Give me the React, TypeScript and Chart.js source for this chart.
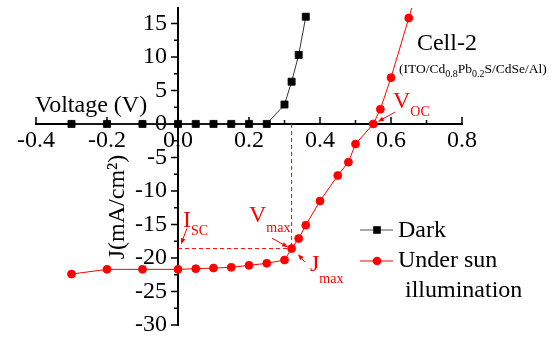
import { useEffect, useRef } from 'react';
import { Chart, registerables } from 'chart.js';

Chart.register(...registerables);

const SERIF = '"Liberation Serif", "Times New Roman", serif';

// Dark J–V curve (V, mA/cm²)
const darkVoltage = [-0.3, -0.2, -0.1, 0, 0.05, 0.1, 0.15, 0.2, 0.25, 0.3, 0.32, 0.34, 0.36];
const darkCurrent = [0, 0, 0, 0, 0, 0, 0, 0, 0, 2.9, 6.3, 10.3, 16.0];

// J–V curve under illumination (V, mA/cm²)
const lightVoltage = [-0.3, -0.2, -0.1, 0, 0.05, 0.1, 0.15, 0.2, 0.25, 0.3, 0.32, 0.34, 0.36, 0.4, 0.45, 0.48, 0.5, 0.55, 0.57, 0.6, 0.65, 0.67];
const lightCurrent = [-22.4, -21.7, -21.7, -21.7, -21.6, -21.5, -21.4, -21.1, -20.8, -20.3, -18.6, -17.1, -15.1, -11.5, -7.7, -5.7, -3.0, 0.0, 2.2, 6.9, 15.8, 19.4];

// Maximum power point
const vMax = 0.32;
const jMax = -18.6;

const seriesNames = ['Dark', 'Under sun illumination'];
const legendLines = [['Dark'], ['Under sun', 'illumination']];

const xTickValues = [-0.4, -0.2, 0, 0.2, 0.4, 0.6, 0.8];
const xMinorValues = [-0.3, -0.1, 0.1, 0.3, 0.5, 0.7];
const yTickValues = [-30, -25, -20, -15, -10, -5, 0, 5, 10, 15];
const yMinorValues = [-27.5, -22.5, -17.5, -12.5, -7.5, -2.5, 2.5, 7.5, 12.5];

const RED = '#ff0000';

type Seg = { text: string; sub?: boolean };

function drawRich(
  ctx: CanvasRenderingContext2D,
  segs: Seg[],
  x: number,
  y: number,
  size: number,
  subSize: number,
  subDrop: number,
) {
  let cx = x;
  for (const s of segs) {
    ctx.font = `${s.sub ? subSize : size}px ${SERIF}`;
    ctx.fillText(s.text, cx, s.sub ? y + subDrop : y);
    cx += ctx.measureText(s.text).width;
  }
}

function drawArrow(ctx: CanvasRenderingContext2D, x1: number, y1: number, x2: number, y2: number) {
  const ang = Math.atan2(y2 - y1, x2 - x1);
  const len = 6;
  const half = 2.4;
  ctx.beginPath();
  ctx.moveTo(x1, y1);
  ctx.lineTo(x2 - Math.cos(ang) * len * 0.6, y2 - Math.sin(ang) * len * 0.6);
  ctx.stroke();
  ctx.beginPath();
  ctx.moveTo(x2, y2);
  ctx.lineTo(x2 - Math.cos(ang) * len - Math.sin(ang) * half, y2 - Math.sin(ang) * len + Math.cos(ang) * half);
  ctx.lineTo(x2 - Math.cos(ang) * len + Math.sin(ang) * half, y2 - Math.sin(ang) * len - Math.cos(ang) * half);
  ctx.closePath();
  ctx.fill();
}

// Tick marks (x ticks point up from the axis, y ticks point left) and the y tick labels,
// which sit to the left of the y axis where it crosses x = 0
const axisDecor = {
  id: 'axisDecor',
  beforeDatasetsDraw(chart: any) {
    const { ctx, scales } = chart;
    const xs = scales.x;
    const ys = scales.y;
    const x0 = xs.getPixelForValue(0);
    const y0 = ys.getPixelForValue(0);
    ctx.save();
    ctx.strokeStyle = '#000';
    ctx.lineWidth = 1.5;
    ctx.beginPath();
    for (const v of xTickValues) {
      const p = xs.getPixelForValue(v);
      ctx.moveTo(p, y0);
      ctx.lineTo(p, y0 - 7);
    }
    for (const v of xMinorValues) {
      const p = xs.getPixelForValue(v);
      ctx.moveTo(p, y0);
      ctx.lineTo(p, y0 - 4);
    }
    for (const v of yTickValues) {
      const p = ys.getPixelForValue(v);
      ctx.moveTo(x0, p);
      ctx.lineTo(x0 - 7, p);
    }
    for (const v of yMinorValues) {
      const p = ys.getPixelForValue(v);
      ctx.moveTo(x0, p);
      ctx.lineTo(x0 - 4, p);
    }
    ctx.stroke();

    ctx.fillStyle = '#000';
    ctx.font = `24px ${SERIF}`;
    ctx.textAlign = 'right';
    ctx.textBaseline = 'middle';
    for (const t of ys.ticks) {
      ctx.fillText(String(t.value), x0 - 11, ys.getPixelForValue(t.value));
    }
    ctx.restore();
  },
};

// Text, arrows and legend
const annotations = {
  id: 'annotations',
  afterDatasetsDraw(chart: any) {
    const { ctx, scales } = chart;
    const px = (v: number) => scales.x.getPixelForValue(v);
    const py = (v: number) => scales.y.getPixelForValue(v);
    ctx.save();
    ctx.textAlign = 'left';
    ctx.textBaseline = 'alphabetic';

    // axis titles
    ctx.fillStyle = '#000';
    ctx.font = `24px ${SERIF}`;
    ctx.fillText('Voltage (V)', px(-0.403), py(1.84));
    ctx.save();
    ctx.translate(124, 207);
    ctx.rotate(-Math.PI / 2);
    ctx.textAlign = 'center';
    ctx.fillText('J(mA/cm\u00B2)', 0, 0);
    ctx.restore();

    // cell description
    ctx.font = `24px ${SERIF}`;
    ctx.fillText('Cell-2', px(0.673), py(11.0));
    drawRich(
      ctx,
      [
        { text: '(ITO/Cd' },
        { text: '0.8', sub: true },
        { text: 'Pb' },
        { text: '0.2', sub: true },
        { text: 'S/CdSe/Al)' },
      ],
      px(0.6225),
      py(7.58),
      13.5,
      10,
      4,
    );

    // parameter labels
    ctx.fillStyle = RED;
    ctx.strokeStyle = RED;
    ctx.lineWidth = 1;
    drawRich(ctx, [{ text: 'V' }, { text: 'OC', sub: true }], px(0.6056), py(2.36), 24, 14, 7.5);
    drawRich(ctx, [{ text: 'I' }, { text: 'SC', sub: true }], px(0.0141), py(-15.4), 24, 14, 8);
    drawRich(ctx, [{ text: 'V' }, { text: 'max', sub: true }], px(0.2), py(-14.66), 24, 14, 10);
    drawRich(ctx, [{ text: 'J' }, { text: 'max', sub: true }], px(0.3718), py(-21.97), 24, 14, 12);

    drawArrow(ctx, px(0.611), py(1.76), px(0.563), py(0.34));
    drawArrow(ctx, px(0.0254), py(-15.55), px(0.0085), py(-17.94));
    drawArrow(ctx, px(0.2648), py(-17.04), px(0.3099), py(-18.39));
    drawArrow(ctx, px(0.3577), py(-20.63), px(0.338), py(-19.43));

    // legend
    const datasets = chart.data.datasets;
    const rows = [230, 261];
    const textRows = [[236.5], [267, 296.5]];
    const textX = [[398], [398, 405]];
    for (let i = 0; i < 2; i++) {
      const ds = datasets[i];
      const cy = rows[i];
      ctx.strokeStyle = i === 0 ? '#555' : ds.borderColor;
      ctx.lineWidth = 1;
      ctx.beginPath();
      ctx.moveTo(360, cy);
      ctx.lineTo(393, cy);
      ctx.stroke();
      ctx.fillStyle = ds.pointBackgroundColor;
      if (ds.pointStyle === 'rect') {
        ctx.fillRect(377 - 3.8, cy - 3.8, 7.6, 7.6);
      } else {
        ctx.beginPath();
        ctx.arc(377, cy, 4.3, 0, Math.PI * 2);
        ctx.fill();
      }
      ctx.fillStyle = '#000';
      ctx.font = `24px ${SERIF}`;
      legendLines[i].forEach((line, j) => {
        ctx.fillText(line, textX[i][j], textRows[i][j]);
      });
    }
    ctx.restore();
  },
};

export default function App() {
  const canvasRef = useRef<HTMLCanvasElement | null>(null);

  useEffect(() => {
    const canvas = canvasRef.current;
    if (!canvas) return;
    Chart.defaults.font.family = SERIF;
    Chart.defaults.color = '#000';

    const chart = new Chart(canvas, {
      type: 'scatter',
      data: {
        datasets: [
          {
            label: seriesNames[0],
            data: darkVoltage.map((v, i) => ({ x: v, y: darkCurrent[i] })),
            showLine: true,
            borderColor: '#333',
            borderWidth: 1,
            pointStyle: 'rect',
            pointRadius: 5,
            pointBorderWidth: 0.8,
            pointBackgroundColor: '#000',
            pointBorderColor: '#000',
          },
          {
            label: seriesNames[1],
            data: lightVoltage.map((v, i) => ({ x: v, y: lightCurrent[i] })),
            showLine: true,
            borderColor: RED,
            borderWidth: 1,
            pointStyle: 'circle',
            pointRadius: 4,
            pointBorderWidth: 0.8,
            pointBackgroundColor: RED,
            pointBorderColor: RED,
          },
          {
            label: 'Vmax guide',
            data: [
              { x: vMax, y: 0 },
              { x: vMax, y: jMax },
            ],
            showLine: true,
            borderColor: RED,
            borderWidth: 1,
            borderDash: [4, 3],
            pointRadius: 0,
          },
          {
            label: 'Jmax guide',
            data: [
              { x: 0, y: jMax },
              { x: vMax, y: jMax },
            ],
            showLine: true,
            borderColor: RED,
            borderWidth: 1,
            borderDash: [4, 3],
            pointRadius: 0,
          },
        ],
      } as any,
      options: {
        responsive: false,
        animation: false,
        events: [],
        layout: { padding: { left: 36, right: 92, top: 8, bottom: 12 } },
        plugins: {
          legend: { display: false },
          tooltip: { enabled: false },
        },
        scales: {
          x: {
            type: 'linear',
            min: -0.4,
            max: 0.8,
            position: { y: 0 } as any,
            afterBuildTicks: (scale: any) => {
              scale.ticks = xTickValues.map((value) => ({ value }));
            },
            grid: { display: false, drawTicks: false },
            border: { display: true, color: '#000', width: 2 },
            ticks: {
              padding: 2,
              font: { family: SERIF, size: 24 },
              color: '#000',
              maxRotation: 0,
              autoSkip: false,
              callback: (v: any) => Number(v).toFixed(1),
            },
          },
          y: {
            type: 'linear',
            min: -30,
            max: 17.3,
            position: { x: 0 } as any,
            afterBuildTicks: (scale: any) => {
              scale.ticks = yTickValues.map((value) => ({ value }));
            },
            grid: { display: false, drawTicks: false },
            border: { display: true, color: '#000', width: 2 },
            ticks: { display: false },
          },
        },
      },
      plugins: [axisDecor, annotations],
    } as any);

    return () => chart.destroy();
  }, []);

  return (
    <div style={{ position: 'absolute', left: 0, top: 0, width: 554, height: 337, background: '#fff' }}>
      <canvas ref={canvasRef} width={554} height={337} style={{ display: 'block' }} />
    </div>
  );
}
